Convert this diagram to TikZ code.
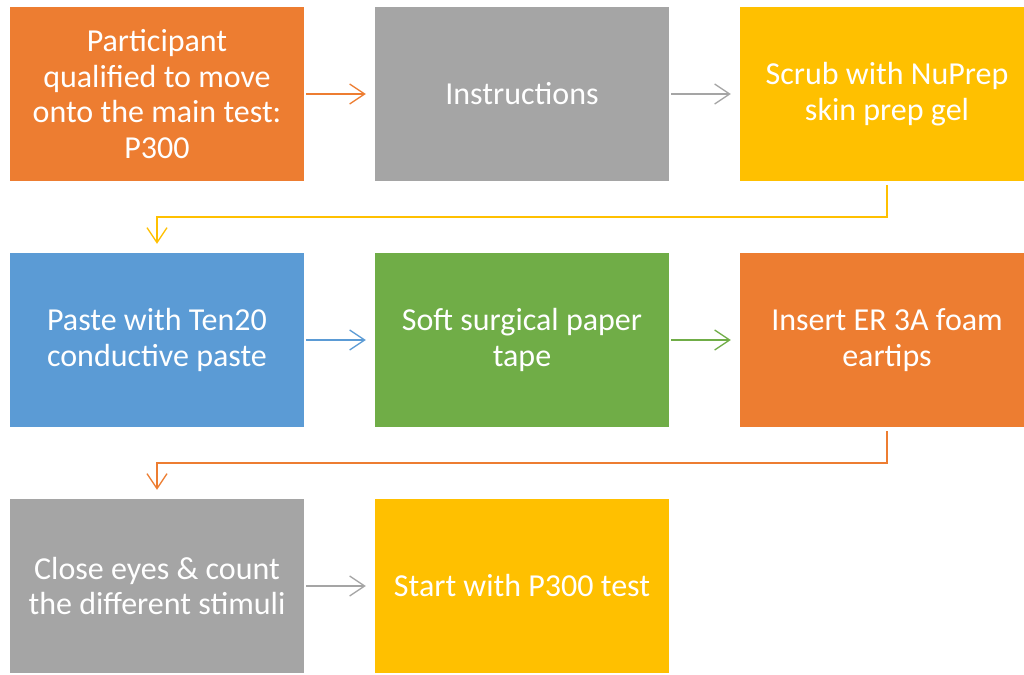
\documentclass[tikz,border=0pt]{standalone}
\usepackage{fontspec}
\setmainfont{Carlito}
\usetikzlibrary{arrows.meta}
\definecolor{cOrange}{HTML}{ED7D31}
\definecolor{cGray}{HTML}{A5A5A5}
\definecolor{cGold}{HTML}{FFC000}
\definecolor{cBlue}{HTML}{5B9BD5}
\definecolor{cGreen}{HTML}{70AD47}
\begin{document}
\begin{tikzpicture}[x=1bp,y=-1bp,
  box/.style={rectangle,minimum width=294bp,minimum height=174bp,inner sep=0pt,draw=none,
    text=white,align=center,font=\fontsize{32bp}{35.5bp}\selectfont},
  conn/.style={line width=1.5bp,-{Straight Barb[length=15bp,width=20bp,line width=1.3bp]}},
  flow/.style={conn,shorten <=2bp,shorten >=9bp}]
\clip (0,0) rectangle (1024,675);
\fill[white] (0,0) rectangle (1024,675);
\node[box,fill=cOrange] (b1) at (157,94) {Participant\\qualified to move\\onto the main test:\\P300};
\node[box,fill=cGray] (b2) at (522,94) {Instructions};
\node[box,fill=cGold] (b3) at (887,94) {Scrub with NuPrep\\skin prep gel};
\node[box,fill=cBlue] (b4) at (157,340) {Paste with Ten20\\conductive paste};
\node[box,fill=cGreen] (b5) at (522,340) {Soft surgical paper\\tape};
\node[box,fill=cOrange] (b6) at (887,340) {Insert ER 3A foam\\eartips};
\node[box,fill=cGray] (b7) at (157,586) {Close eyes \& count\\the different stimuli};
\node[box,fill=cGold] (b8) at (522,586) {Start with P300 test};
\draw[flow,draw=cOrange] (b1) -- (b2);
\draw[flow,draw=cGray] (b2) -- (b3);
\draw[conn,draw=cGold,shorten <=4bp,shorten >=9bp] (b3.south) -- ++(0,36) -| (b4.north);
\draw[flow,draw=cBlue] (b4) -- (b5);
\draw[flow,draw=cGreen] (b5) -- (b6);
\draw[conn,draw=cOrange,shorten <=4bp,shorten >=9bp] (b6.south) -- ++(0,36) -| (b7.north);
\draw[flow,draw=cGray] (b7) -- (b8);
\end{tikzpicture}
\end{document}
